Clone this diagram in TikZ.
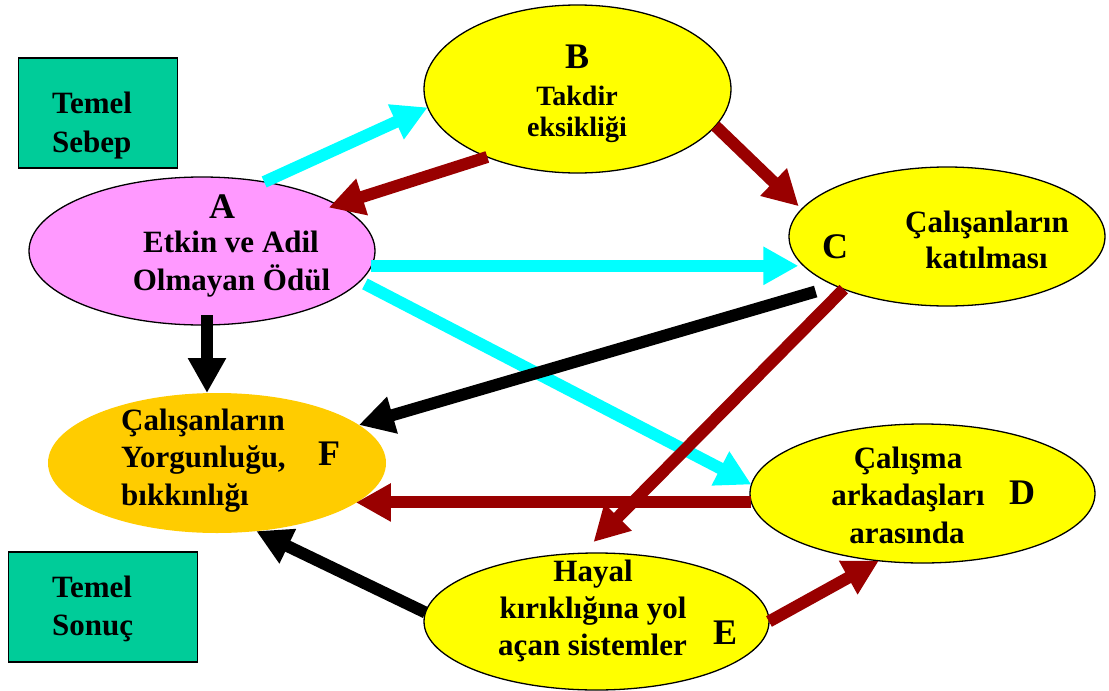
\documentclass[tikz,border=0pt]{standalone}
\usepackage{fontspec}
\setmainfont{Liberation Serif}
\usetikzlibrary{shapes.geometric,arrows.meta}
\definecolor{boxteal}{HTML}{00CC99}
\definecolor{nodepink}{HTML}{FF99FF}
\definecolor{nodeyellow}{HTML}{FFFF00}
\definecolor{nodeorange}{HTML}{FFCC00}
\definecolor{arrcyan}{HTML}{00FFFF}
\definecolor{arrred}{HTML}{990000}
\begin{document}
\begin{tikzpicture}[x=1pt,y=-1pt,
  ell/.style={ellipse, draw=black, line width=1.3pt, inner sep=0pt, outer sep=0pt},
  keybox/.style={rectangle, draw=black, line width=1.3pt, fill=boxteal, inner sep=0pt},
  txt/.style={font=\fontsize{31}{37}\selectfont\bfseries, anchor=base, inner sep=0pt},
  ltxt/.style={txt, anchor=base west},
  smalltxt/.style={txt, font=\fontsize{28}{31}\selectfont\bfseries},
  lbl/.style={font=\fontsize{36}{40}\selectfont\bfseries, anchor=base, inner sep=0pt},
  arr/.style={line width=12pt, -{Triangle[length=35pt,width=36pt]}},
]
\useasboundingbox (0,0) rectangle (1109,691);
\fill[white] (0,0) rectangle (1109,691);

% legend boxes
\node[keybox, minimum width=159pt, minimum height=110pt] (sebep) at (98.3,113) {};
\node[keybox, minimum width=189pt, minimum height=110pt] (sonuc) at (103,607) {};

% ellipses
\node[ell, fill=nodepink, minimum width=346pt, minimum height=148pt] (A) at (202,251) {};
\node[ell, fill=nodeyellow, minimum width=307pt, minimum height=168pt] (B) at (577.5,89) {};
\node[ell, fill=nodeyellow, minimum width=316pt, minimum height=139pt] (C) at (947,236.5) {};
\node[ellipse, draw=none, fill=nodeorange, inner sep=0pt, outer sep=0pt, minimum width=338pt, minimum height=140pt] (F) at (217,463) {};
\node[ell, fill=nodeyellow, minimum width=345pt, minimum height=139pt] (D) at (922.5,493.5) {};
\node[ell, fill=nodeyellow, minimum width=345pt, minimum height=137pt] (E) at (596.5,621.5) {};

% texts
\node[ltxt] (sb1) at (52,113) {Temel};
\node[ltxt] (sb2) at (52,152) {Sebep};
\node[ltxt] (sn1) at (52,597) {Temel};
\node[ltxt] (sn2) at (52,635) {Sonuç};

\node[lbl] (la) at (222,218) {A};
\node[txt] (a1) at (231,252) {Etkin ve Adil};
\node[txt] (a2) at (231.5,290) {Olmayan Ödül};

\node[lbl] (lb) at (577,68) {B};
\node[smalltxt] (b1) at (577,105) {Takdir};
\node[smalltxt] (b2) at (577,136) {eksikliği};

\node[lbl] (lc) at (835,258) {C};
\node[txt] (c1) at (987,232) {Çalışanların};
\node[txt] (c2) at (986.5,268) {katılması};

\node[ltxt] (f1) at (121,430) {Çalışanların};
\node[ltxt] (f2) at (121,467) {Yorgunluğu,};
\node[ltxt] (f3) at (121,505) {bıkkınlığı};
\node[lbl] (lf) at (329,465) {F};

\node[txt] (d1) at (908,468) {Çalışma};
\node[txt] (d2) at (908,505) {arkadaşları};
\node[txt] (d3) at (907,543) {arasında};
\node[lbl] (ld) at (1022,504) {D};

\node[txt] (e1) at (593,581) {Hayal};
\node[txt] (e2) at (593,618) {kırıklığına yol};
\node[txt] (e3) at (592.5,655) {açan sistemler};
\node[lbl] (le) at (725,644) {E};

% connector end points off the borders
\coordinate (aTail) at ([xshift=5pt,yshift=10pt]A.south);
\coordinate (adTail) at ([xshift=8pt]A.348);
\coordinate (cfTail) at ([xshift=-15pt,yshift=-8pt]C.202);
\coordinate (ceTip) at ([xshift=-3pt,yshift=11pt]E.north);
\coordinate (baTip) at ([xshift=-8pt,yshift=-3pt]A.19);
\coordinate (bcTip) at ([xshift=-6pt]C.168);

% connectors
\draw[arr, arrcyan] (A.48) -- (B.187);
\draw[arr, arrcyan] (A.355) -- (A.355 -| C.189);
\draw[arr, arrcyan] (adTail) -- (D.177);
\draw[arr, arrred] (B.217) -- (baTip);
\draw[arr, arrred] (B.345) -- (bcTip);
\draw[arr, arrred] (D.183) -- (D.183 -| F.344);
\draw[arr, black] (cfTail) -- (F.15);
\draw[arr, arrred] (C.207) -- (ceTip);
\draw[arr, black] (aTail) -- (aTail |- F.north);
\draw[arr, black] (E.177) -- (F.300);
\draw[arr, arrred] (E.east) -- (D.237);
\end{tikzpicture}
\end{document}
